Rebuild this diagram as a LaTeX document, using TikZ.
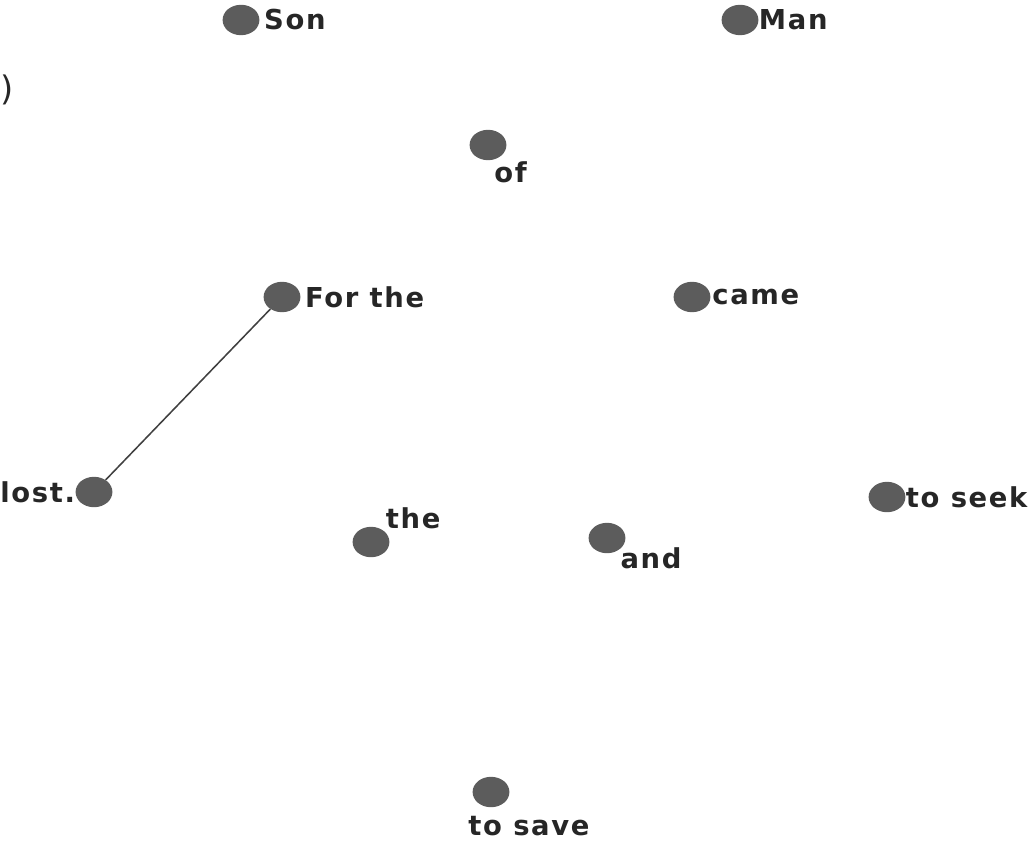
\documentclass[tikz,border=0pt]{standalone}
\usepackage{fontspec}
\setmainfont{DejaVu Sans}[BoldFont={DejaVu Sans Bold}]
\usetikzlibrary{positioning,shapes.geometric}

\definecolor{dotgray}{HTML}{5C5C5C}
\tikzset{
  dot/.style={ellipse, fill=dotgray, draw=none, minimum width=0.92cm, minimum height=0.76cm, inner sep=0pt},
  word/.style={inner sep=0pt, font=\fontsize{19.5}{21}\selectfont\bfseries\addfontfeature{LetterSpace=6}, text=black!85},
  link/.style={draw=black!75, line width=1.1pt}
}

\begin{document}
\begin{tikzpicture}[x=0.025cm, y=-0.025cm]
	\useasboundingbox (0,0) rectangle (1029,846);
	
	% Define the dots
	\node[dot] (son) at (241,20) {};
	\node[dot] (man) at (740,20) {};
	\node[dot] (of) at (488,145) {};
	\node[dot] (forthe) at (282,297) {};
	\node[dot] (came) at (692,297) {};
	\node[dot] (lost) at (94,492) {};
	\node[dot] (the) at (371,542) {};
	\node[dot] (and) at (607,538) {};
	\node[dot] (toseek) at (887,497) {};
	\node[dot] (tosave) at (491,792) {};
	
	% Words next to the dots
	\node[word, right=3pt of son] (sonw) {Son};
	\node[word, right=0pt of man] (manw) {Man};
	\node[word, below right=4pt and -5pt of of] (ofw) {of};
	\node[word, right=3pt of forthe] (forthew) {For the};
	\node[word, right=1pt of came] (camew) {came};
	\node[word, left=0pt of lost] (lostw) {lost.};
	\node[word, above right=1pt and 1pt of the] (thew) {the};
	\node[word, below right=-1pt and 0pt of and] (andw) {and};
	\node[word, right=0pt of toseek] (toseekw) {to seek};
	\node[word, below right=9pt and -0.9cm of tosave] (tosavew) {to save};
	\node[word, anchor=west, font=\fontsize{24}{26}\selectfont] (paren) at (0,90) {)};
	
	% Draw the one edge
	\draw[link] (forthe) -- (lost);
\end{tikzpicture}
\end{document}
